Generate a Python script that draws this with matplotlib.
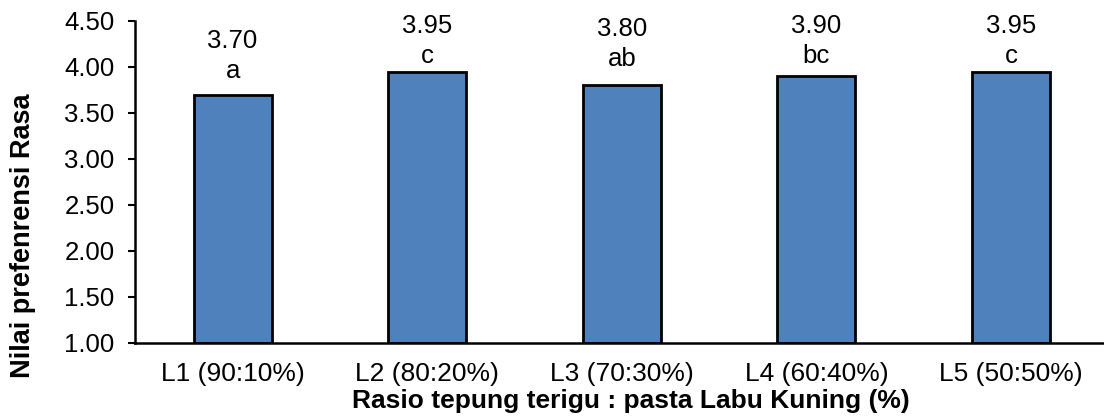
import matplotlib
matplotlib.use("Agg")
import matplotlib.pyplot as plt

categories = ["L1 (90:10%)", "L2 (80:20%)", "L3 (70:30%)", "L4 (60:40%)", "L5 (50:50%)"]
values = [3.70, 3.95, 3.80, 3.90, 3.95]
letters = ["a", "c", "ab", "bc", "c"]
yticks = [1.00, 1.50, 2.00, 2.50, 3.00, 3.50, 4.00, 4.50]

# label baseline positions (layout, manually placed in original)
label_y = [3.88, 4.04, 4.01, 4.04, 4.04]

plt.rcParams['font.family'] = ['Liberation Sans', 'DejaVu Sans']

W, H = 1104, 417
fig = plt.figure(figsize=(W / 100, H / 100), dpi=100)
left_px, right_px, top_px, bottom_px = 135.3, 1104, 21, 343
ax = fig.add_axes([left_px / W, 1 - bottom_px / H, (right_px - left_px) / W, (bottom_px - top_px) / H])

x = list(range(len(categories)))
ax.bar(x, [v - 1.0 for v in values], bottom=1.0, width=0.40, color="#4F81BD",
       edgecolor="black", linewidth=2.0, zorder=3)

spacing = 194.6
ax.set_xlim(-0.5, -0.5 + (right_px - left_px) / spacing)
ax.set_ylim(1.0, 4.5)
ax.set_yticks(yticks)
ax.set_yticklabels([f"{t:.2f}" for t in yticks])
ax.set_xticks(x)
ax.set_xticklabels(categories)

fs = 18.5
fsx = 19
ax.tick_params(axis="y", direction="out", length=5, width=1.5, labelsize=fs, pad=10)
ax.tick_params(axis="x", length=0, labelsize=fsx, pad=14)
for s in ["top", "right"]:
    ax.spines[s].set_visible(False)
for s in ["left", "bottom"]:
    ax.spines[s].set_linewidth(1.8)
ax.spines["bottom"].set_zorder(4)

for xi, v, l, ly in zip(x, values, letters, label_y):
    ax.text(xi, ly, f"{v:.2f}\n{l}", ha="center", va="baseline", fontsize=fs,
            multialignment="center", linespacing=1.32, clip_on=False)

fig.text(631 / W, 1 - 401 / H, "Rasio tepung terigu : pasta Labu Kuning (%)",
         ha="center", va="center", fontsize=19.0, fontweight="bold")
fig.text(23 / W, 1 - 236 / H, "Nilai prefenrensi Rasa", ha="center", va="center",
         rotation=90, fontsize=19.5, fontweight="bold")

fig.savefig("out.png", dpi=100)
